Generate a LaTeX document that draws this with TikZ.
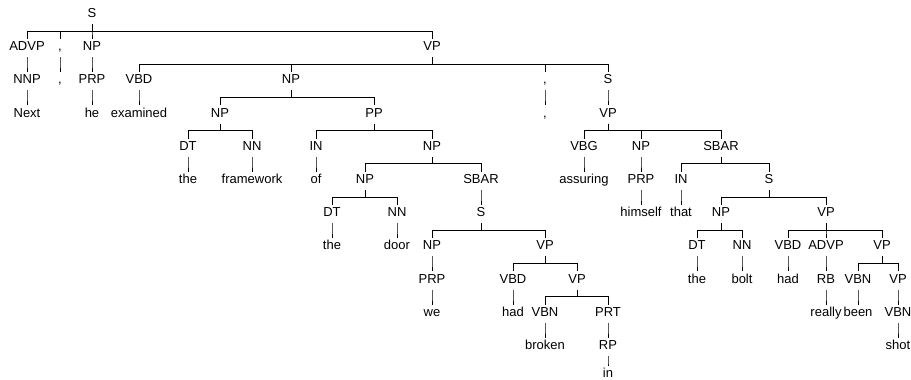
\documentclass[tikz,border=0pt]{standalone}
\usepackage{fontspec}
\setmainfont{Liberation Sans}
\begin{document}
\begin{tikzpicture}[x=1pt,y=-33.2pt,
  lbl/.style={anchor=base,font=\fontsize{13}{15}\selectfont,text height=11.6pt,text depth=6.3pt,inner xsep=1pt,inner ysep=0pt},
  link/.style={line width=1pt}]
\useasboundingbox (0,-0.53) rectangle (911,10.91);
\node[lbl] (s) at (92,0) {S};
\node[lbl] (advp) at (27,1) {ADVP};
\node[lbl] (cma) at (60,1) {,};
\node[lbl] (np) at (92,1) {NP};
\node[lbl] (vp) at (432,1) {VP};
\node[lbl] (nnp) at (27,2) {NNP};
\node[lbl] (wcma) at (60,2) {,};
\node[lbl] (prp) at (92,2) {PRP};
\node[lbl] (vbd) at (139,2) {VBD};
\node[lbl] (npo) at (291,2) {NP};
\node[lbl] (cmb) at (545,2) {,};
\node[lbl] (sb) at (608,2) {S};
\node[lbl] (wnext) at (27,3) {Next};
\node[lbl] (whe) at (92,3) {he};
\node[lbl] (wexamined) at (139,3) {examined};
\node[lbl] (npf) at (220,3) {NP};
\node[lbl] (pp) at (374,3) {PP};
\node[lbl] (wcmb) at (545,3) {,};
\node[lbl] (vpc) at (608,3) {VP};
\node[lbl] (dtf) at (188,4) {DT};
\node[lbl] (nnf) at (252,4) {NN};
\node[lbl] (inp) at (316,4) {IN};
\node[lbl] (npd) at (432,4) {NP};
\node[lbl] (vbg) at (584,4) {VBG};
\node[lbl] (nph) at (641,4) {NP};
\node[lbl] (sbarb) at (721,4) {SBAR};
\node[lbl] (wthea) at (188,5) {the};
\node[lbl] (wframework) at (252,5) {framework};
\node[lbl] (wof) at (316,5) {of};
\node[lbl] (npdd) at (365,5) {NP};
\node[lbl] (sbara) at (481,5) {SBAR};
\node[lbl] (wassuring) at (584,5) {assuring};
\node[lbl] (prph) at (641,5) {PRP};
\node[lbl] (inb) at (681,5) {IN};
\node[lbl] (sc) at (769,5) {S};
\node[lbl] (dtd) at (332,6) {DT};
\node[lbl] (nnd) at (397,6) {NN};
\node[lbl] (sa) at (481,6) {S};
\node[lbl] (whimself) at (641,6) {himself};
\node[lbl] (wthat) at (681,6) {that};
\node[lbl] (npb) at (721,6) {NP};
\node[lbl] (vpd) at (826,6) {VP};
\node[lbl] (wtheb) at (332,7) {the};
\node[lbl] (wdoor) at (397,7) {door};
\node[lbl] (npw) at (432,7) {NP};
\node[lbl] (vpa) at (545,7) {VP};
\node[lbl] (dtb) at (697,7) {DT};
\node[lbl] (nnb) at (742,7) {NN};
\node[lbl] (vbdb) at (788,7) {VBD};
\node[lbl] (advpb) at (826,7) {ADVP};
\node[lbl] (vpe) at (882,7) {VP};
\node[lbl] (prpw) at (432,8) {PRP};
\node[lbl] (vbda) at (513,8) {VBD};
\node[lbl] (vpb) at (577,8) {VP};
\node[lbl] (wthec) at (697,8) {the};
\node[lbl] (wbolt) at (742,8) {bolt};
\node[lbl] (whadb) at (788,8) {had};
\node[lbl] (rb) at (826,8) {RB};
\node[lbl] (vbnb) at (858,8) {VBN};
\node[lbl] (vpf) at (898,8) {VP};
\node[lbl] (wwe) at (432,9) {we};
\node[lbl] (whada) at (513,9) {had};
\node[lbl] (vbna) at (545,9) {VBN};
\node[lbl] (prt) at (608,9) {PRT};
\node[lbl] (wreally) at (826,9) {really};
\node[lbl] (wbeen) at (858,9) {been};
\node[lbl] (vbnc) at (898,9) {VBN};
\node[lbl] (wbroken) at (545,10) {broken};
\node[lbl] (rp) at (608,10) {RP};
\node[lbl] (wshot) at (898,10) {shot};
\node[lbl] (win) at (608,10.84) {in};
\foreach \p/\c in {s/advp,s/cma,s/np,s/vp,advp/nnp,nnp/wnext,cma/wcma,np/prp,prp/whe,
  vp/vbd,vp/npo,vp/cmb,vp/sb,vbd/wexamined,npo/npf,npo/pp,cmb/wcmb,sb/vpc,
  npf/dtf,npf/nnf,dtf/wthea,nnf/wframework,pp/inp,pp/npd,inp/wof,
  npd/npdd,npd/sbara,npdd/dtd,npdd/nnd,dtd/wtheb,nnd/wdoor,
  sbara/sa,sa/npw,sa/vpa,npw/prpw,prpw/wwe,
  vpa/vbda,vpa/vpb,vbda/whada,vpb/vbna,vpb/prt,vbna/wbroken,prt/rp,rp/win,
  vpc/vbg,vpc/nph,vpc/sbarb,vbg/wassuring,nph/prph,prph/whimself,
  sbarb/inb,sbarb/sc,inb/wthat,sc/npb,sc/vpd,npb/dtb,npb/nnb,dtb/wthec,nnb/wbolt,
  vpd/vbdb,vpd/advpb,vpd/vpe,vbdb/whadb,advpb/rb,rb/wreally,
  vpe/vbnb,vpe/vpf,vbnb/wbeen,vpf/vbnc,vbnc/wshot}
  \draw[link] (\p.south) -- ++(0,-7pt) -| (\c.north);
\end{tikzpicture}
\end{document}
